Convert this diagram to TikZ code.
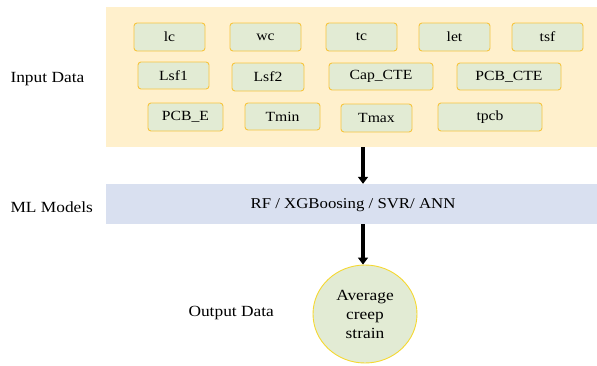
\documentclass[tikz,border=0pt]{standalone}
\usepackage{fontspec}
\setmainfont[FakeStretch=1.12]{Liberation Serif}
\usetikzlibrary{shapes.geometric,arrows.meta}
\definecolor{panel}{HTML}{FFF0CC}
\definecolor{boxfill}{HTML}{E2EBD4}
\definecolor{boxedge}{HTML}{F7C53E}
\definecolor{band}{HTML}{D9E0F0}
\definecolor{circedge}{HTML}{F5D830}
\tikzset{
  feat/.style={draw=boxedge, line width=0.9pt, fill=boxfill, rounded corners=3pt,
    inner sep=0pt, font=\fontsize{14}{16}\selectfont},
  side/.style={font=\fontsize{15.5}{19}\selectfont, anchor=west},
  flow/.style={-{Triangle[length=7pt,width=10pt]}, line width=3.2pt},
}
\newcommand{\featbox}[6]{% name, x1, y1, x2, y2, text
  \node[feat, minimum width=#4pt-#2pt, minimum height=#5pt-#3pt]
    (#1) at ({(#2+#4)/2}, {(#3+#5)/2}) {#6};}
\begin{document}
\begin{tikzpicture}[x=1pt, y=-1pt]
  \useasboundingbox (0,0) rectangle (597,365);
  % input panel and model band
  \fill[panel] (106,7) rectangle (597,147);
  \coordinate (paneltop) at (363,147);
  \node[fill=band, minimum width=491pt, minimum height=40pt, inner sep=0pt] (ml) at (351.5,204) {};
  \node[font=\fontsize{15}{18}\selectfont] (mltext) at (353,205) {RF / XGBoosing / SVR/ ANN};
  % feature boxes
  \featbox{lc}{134}{23}{205}{51}{lc}
  \featbox{wc}{230}{23}{301}{51}{wc}
  \featbox{tc}{326}{23}{397}{51}{tc}
  \featbox{let}{419}{23}{490}{51}{let}
  \featbox{tsf}{512}{23}{583}{51}{tsf}
  \featbox{lsfa}{138}{62}{209}{89}{Lsf1}
  \featbox{lsfb}{232}{63}{304}{91}{Lsf2}
  \featbox{capcte}{329}{63}{433}{90}{Cap\_CTE}
  \featbox{pcbcte}{457}{63}{561}{90}{PCB\_CTE}
  \featbox{pcbe}{148}{103}{223}{131}{PCB\_E}
  \featbox{tmin}{245}{103}{320}{130}{Tmin}
  \featbox{tmax}{341}{104}{412}{132}{Tmax}
  \featbox{tpcb}{438}{103}{542}{131}{tpcb}
  % output
  \node[ellipse, draw=circedge, line width=0.9pt, fill=boxfill, minimum width=104pt,
        minimum height=98pt, inner sep=0pt, align=center,
        font=\fontsize{15.5}{19}\selectfont] (out) at (365,314) {Average\\creep\\strain};
  % row labels
  \node[side] (inlabel) at (7,79) {Input Data};
  \node[side] (mllabel) at (7,207) {ML Models};
  \node[side] (outlabel) at (185,313) {Output Data};
  % arrows
  \draw[flow] (paneltop) -- (ml.north -| paneltop);
  \draw[flow] (ml.south -| paneltop) -- (out.north -| paneltop);
\end{tikzpicture}
\end{document}
